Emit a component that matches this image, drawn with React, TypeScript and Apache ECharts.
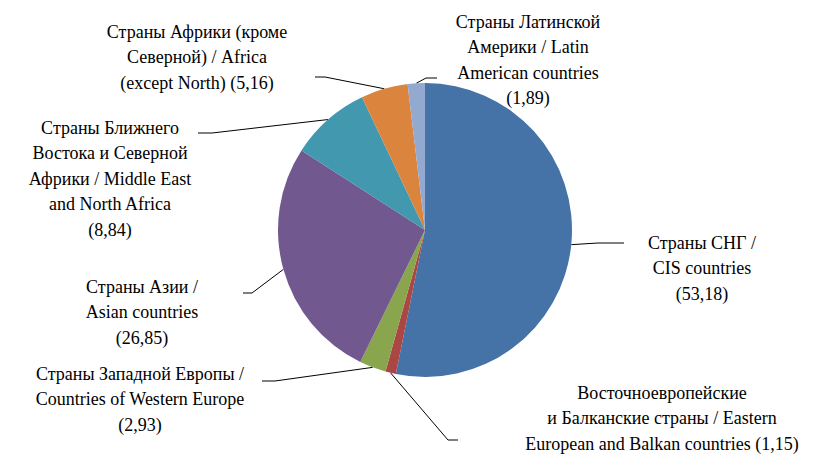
import React, { useEffect, useRef } from "react";
import * as echarts from "echarts";

const categories = [
  "Страны СНГ /\nCIS countries",
  "Восточноевропейские\nи Балканские страны / Eastern\nEuropean and Balkan countries",
  "Страны Западной Европы /\nCountries of Western Europe",
  "Страны Азии /\nAsian countries",
  "Страны Ближнего\nВостока и Северной\nАфрики / Middle East\nand North Africa",
  "Страны Африки (кроме\nСеверной) / Africa\n(except North)",
  "Страны Латинской\nАмерики / Latin\nAmerican countries",
];
const values = [53.18, 1.15, 2.93, 26.85, 8.84, 5.16, 1.89];
const valueOnSameLine = [false, true, false, false, false, true, false];
const colors = ["#4572A7", "#AA4643", "#89A54E", "#71588F", "#4198AF", "#DB843D", "#93A9CF"];

// label layout: text centre x, text top y, leader bend point, leader end point
const labelPlacement = [
  { x: 702, y: 230, bend: [598, 243], end: [624, 243] },
  { x: 662, y: 380, bend: [448, 440], end: [458, 440] },
  { x: 140, y: 361, bend: [275, 381], end: [262, 381] },
  { x: 142, y: 274, bend: [252, 293], end: [243, 293] },
  { x: 110, y: 115, bend: [212, 133], end: [198, 133] },
  { x: 197, y: 19, bend: [325, 77], end: [315, 77] },
  { x: 528, y: 9, bend: [426, 78], end: [437, 78] },
];

export default function App() {
  const ref = useRef<HTMLDivElement>(null);
  useEffect(() => {
    document.body.style.margin = "0";
    const chart = echarts.init(ref.current!, null, { renderer: "svg" });
    chart.setOption({
      animation: false,
      backgroundColor: "#ffffff",
      series: [
        {
          type: "pie",
          center: [425, 230],
          radius: 147,
          startAngle: 90,
          clockwise: true,
          avoidLabelOverlap: false,
          data: categories.map((name, i) => ({
            name,
            value: values[i],
            itemStyle: { color: colors[i] },
          })),
          itemStyle: { borderWidth: 0 },
          label: {
            show: true,
            position: "outside",
            formatter: (p: any) => {
              const v = "(" + String(p.value).replace(".", ",") + ")";
              return p.name + (valueOnSameLine[p.dataIndex] ? " " : "\n") + v;
            },
            fontFamily: "Liberation Serif",
            fontSize: 18,
            lineHeight: 25.5,
            color: "#000000",
            align: "center",
          },
          labelLine: {
            show: true,
            smooth: false,
            lineStyle: { color: "#000000", width: 1 },
          },
          labelLayout: (params: any) => {
            const pl = labelPlacement[params.dataIndex];
            const start = params.labelLinePoints ? params.labelLinePoints[0] : pl.bend;
            return {
              x: pl.x,
              y: pl.y,
              align: "center",
              verticalAlign: "top",
              labelLinePoints: [start, pl.bend, pl.end],
            };
          },
        },
      ],
    });
    return () => chart.dispose();
  }, []);
  return <div ref={ref} style={{ width: 825, height: 454 }} />;
}
